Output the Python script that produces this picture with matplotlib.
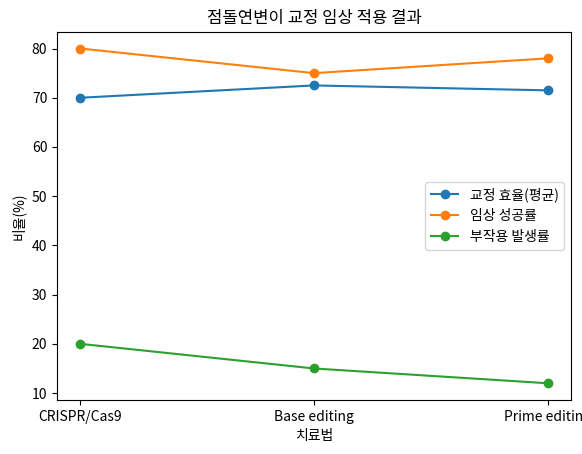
import matplotlib
matplotlib.use("Agg")
import matplotlib.pyplot as plt

plt.rcParams['font.family'] = ['Noto Sans CJK KR', 'DejaVu Sans']

categories = ["CRISPR/Cas9", "Base editing", "Prime editing"]
efficiency = [70, 72.5, 71.5]
clinical = [80, 75, 78]
side_effects = [20, 15, 12]

fig, ax = plt.subplots(figsize=(5.82, 4.54), dpi=100)
ax.plot(categories, efficiency, marker='o', label='교정 효율(평균)')
ax.plot(categories, clinical, marker='o', label='임상 성공률')
ax.plot(categories, side_effects, marker='o', label='부작용 발생률')
ax.set_title('점돌연변이 교정 임상 적용 결과')
ax.set_xlabel('치료법')
ax.set_ylabel('비율(%)')
ax.legend(loc='center right')
fig.subplots_adjust(left=0.098, right=0.981, top=0.93, bottom=0.119)
fig.savefig('out.png')
